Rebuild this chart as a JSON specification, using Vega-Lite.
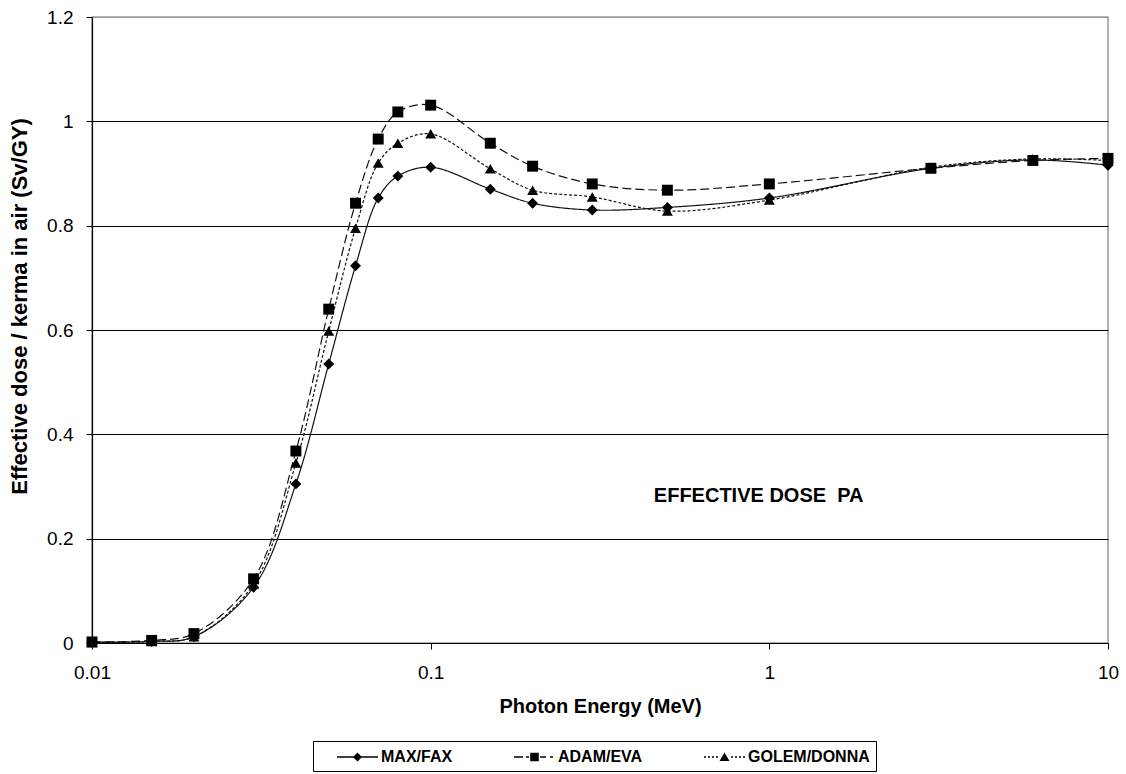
{
  "$schema": "https://vega.github.io/schema/vega-lite/v6.json",
  "autosize": "none",
  "width": 1016,
  "height": 626,
  "padding": {"left": 92, "top": 17, "right": 18, "bottom": 131},
  "background": "white",
  "config": {
    "font": "Liberation Sans",
    "view": {"stroke": "#999999", "strokeWidth": 1.5}
  },
  "data": {
    "values": [
      {"E": 0.01, "series": "MAX/FAX", "v": 0.002},
      {"E": 0.015, "series": "MAX/FAX", "v": 0.003},
      {"E": 0.02, "series": "MAX/FAX", "v": 0.012},
      {"E": 0.03, "series": "MAX/FAX", "v": 0.107},
      {"E": 0.04, "series": "MAX/FAX", "v": 0.305},
      {"E": 0.05, "series": "MAX/FAX", "v": 0.535},
      {"E": 0.06, "series": "MAX/FAX", "v": 0.723},
      {"E": 0.07, "series": "MAX/FAX", "v": 0.853},
      {"E": 0.08, "series": "MAX/FAX", "v": 0.895},
      {"E": 0.1, "series": "MAX/FAX", "v": 0.912},
      {"E": 0.15, "series": "MAX/FAX", "v": 0.870},
      {"E": 0.2, "series": "MAX/FAX", "v": 0.843},
      {"E": 0.3, "series": "MAX/FAX", "v": 0.830},
      {"E": 0.5, "series": "MAX/FAX", "v": 0.835},
      {"E": 1, "series": "MAX/FAX", "v": 0.853},
      {"E": 3, "series": "MAX/FAX", "v": 0.910},
      {"E": 6, "series": "MAX/FAX", "v": 0.926},
      {"E": 10, "series": "MAX/FAX", "v": 0.916},
      {"E": 0.01, "series": "ADAM/EVA", "v": 0.002},
      {"E": 0.015, "series": "ADAM/EVA", "v": 0.005},
      {"E": 0.02, "series": "ADAM/EVA", "v": 0.018},
      {"E": 0.03, "series": "ADAM/EVA", "v": 0.123},
      {"E": 0.04, "series": "ADAM/EVA", "v": 0.368},
      {"E": 0.05, "series": "ADAM/EVA", "v": 0.640},
      {"E": 0.06, "series": "ADAM/EVA", "v": 0.843},
      {"E": 0.07, "series": "ADAM/EVA", "v": 0.966},
      {"E": 0.08, "series": "ADAM/EVA", "v": 1.018},
      {"E": 0.1, "series": "ADAM/EVA", "v": 1.031},
      {"E": 0.15, "series": "ADAM/EVA", "v": 0.958},
      {"E": 0.2, "series": "ADAM/EVA", "v": 0.914},
      {"E": 0.3, "series": "ADAM/EVA", "v": 0.880},
      {"E": 0.5, "series": "ADAM/EVA", "v": 0.868},
      {"E": 1, "series": "ADAM/EVA", "v": 0.880},
      {"E": 3, "series": "ADAM/EVA", "v": 0.910},
      {"E": 6, "series": "ADAM/EVA", "v": 0.925},
      {"E": 10, "series": "ADAM/EVA", "v": 0.929},
      {"E": 0.01, "series": "GOLEM/DONNA", "v": 0.001},
      {"E": 0.015, "series": "GOLEM/DONNA", "v": 0.003},
      {"E": 0.02, "series": "GOLEM/DONNA", "v": 0.012},
      {"E": 0.03, "series": "GOLEM/DONNA", "v": 0.113},
      {"E": 0.04, "series": "GOLEM/DONNA", "v": 0.345},
      {"E": 0.05, "series": "GOLEM/DONNA", "v": 0.598},
      {"E": 0.06, "series": "GOLEM/DONNA", "v": 0.795},
      {"E": 0.07, "series": "GOLEM/DONNA", "v": 0.920},
      {"E": 0.08, "series": "GOLEM/DONNA", "v": 0.958},
      {"E": 0.1, "series": "GOLEM/DONNA", "v": 0.976},
      {"E": 0.15, "series": "GOLEM/DONNA", "v": 0.909},
      {"E": 0.2, "series": "GOLEM/DONNA", "v": 0.868},
      {"E": 0.3, "series": "GOLEM/DONNA", "v": 0.855},
      {"E": 0.5, "series": "GOLEM/DONNA", "v": 0.828},
      {"E": 1, "series": "GOLEM/DONNA", "v": 0.849},
      {"E": 3, "series": "GOLEM/DONNA", "v": 0.912},
      {"E": 6, "series": "GOLEM/DONNA", "v": 0.928},
      {"E": 10, "series": "GOLEM/DONNA", "v": 0.925}
    ]
  },
  "encoding": {
    "x": {
      "field": "E",
      "type": "quantitative",
      "scale": {"type": "log", "domain": [0.01, 10], "nice": false},
      "axis": {
        "title": "Photon Energy (MeV)",
        "values": [0.01, 0.1, 1, 10],
        "labelExpr": "datum.value",
        "grid": false,
        "domainColor": "black",
        "domainWidth": 1.2,
        "tickColor": "black",
        "tickSize": 6,
        "labelPadding": 14,
        "labelFontSize": 19,
        "labelColor": "black",
        "labelFlush": false,
        "titleFontSize": 20,
        "titleFontWeight": "bold",
        "titleColor": "black",
        "titlePadding": 14
      }
    },
    "y": {
      "field": "v",
      "type": "quantitative",
      "scale": {"domain": [0, 1.2], "nice": false},
      "axis": {
        "title": "Effective dose / kerma in air (Sv/GY)",
        "values": [0, 0.2, 0.4, 0.6, 0.8, 1, 1.2],
        "format": ".1~f",
        "grid": true,
        "gridColor": {"condition": {"test": "datum.value >= 1.19", "value": "#999999"}, "value": "black"},
        "gridWidth": 1.2,
        "gridOpacity": 1,
        "domainColor": "black",
        "domainWidth": 1.2,
        "tickColor": "black",
        "tickSize": 6,
        "labelPadding": 13,
        "labelFontSize": 19,
        "labelColor": "black",
        "labelFlush": false,
        "titleFontSize": 22,
        "titleFontWeight": "bold",
        "titleColor": "black",
        "titlePadding": 15,
        "titleY": 289
      }
    }
  },
  "layer": [
    {
      "mark": {"type": "line", "interpolate": "catmull-rom", "color": "#111111", "strokeWidth": 1.2},
      "encoding": {
        "strokeDash": {
          "field": "series",
          "type": "nominal",
          "scale": {"domain": ["MAX/FAX", "ADAM/EVA", "GOLEM/DONNA"], "range": [[1, 0], [9, 4], [3, 2]]},
          "legend": null
        }
      }
    },
    {
      "mark": {"type": "point", "filled": true, "color": "black", "opacity": 1, "size": 120},
      "encoding": {
        "shape": {
          "field": "series",
          "type": "nominal",
          "scale": {"domain": ["MAX/FAX", "ADAM/EVA", "GOLEM/DONNA"], "range": ["diamond", "square", "triangle-up"]},
          "legend": null
        }
      }
    },
    {
      "mark": {"type": "point", "filled": true, "color": "black", "opacity": 0},
      "encoding": {
        "shape": {
          "field": "series",
          "type": "nominal",
          "scale": {
            "domain": ["MAX/FAX", "ADAM/EVA", "GOLEM/DONNA"],
            "range": [
              "M0.8,-0.065L4.9,-0.065L4.9,0.065L0.8,0.065ZM2.85,-0.45L3.3,0L2.85,0.45L2.4,0Z",
              "M0.8,-0.065L1.7,-0.065L1.7,0.065L0.8,0.065ZM2.0,-0.065L2.3,-0.065L2.3,0.065L2.0,0.065ZM2.42,-0.43L3.28,-0.43L3.28,0.43L2.42,0.43ZM3.4,-0.065L4.0,-0.065L4.0,0.065L3.4,0.065ZM4.4,-0.065L4.7,-0.065L4.7,0.065L4.4,0.065Z",
              "M0.8,-0.065L1.0,-0.065L1.0,0.065L0.8,0.065ZM1.2,-0.065L1.4,-0.065L1.4,0.065L1.2,0.065ZM1.6,-0.065L1.8,-0.065L1.8,0.065L1.6,0.065ZM2.0,-0.065L2.2,-0.065L2.2,0.065L2.0,0.065ZM2.85,-0.45L3.35,0.4L2.35,0.4ZM3.5,-0.065L3.7,-0.065L3.7,0.065L3.5,0.065ZM3.9,-0.065L4.1,-0.065L4.1,0.065L3.9,0.065ZM4.3,-0.065L4.5,-0.065L4.5,0.065L4.3,0.065ZM4.7,-0.065L4.9,-0.065L4.9,0.065L4.7,0.065Z"
            ]
          },
          "legend": {
            "title": null,
            "orient": "none",
            "legendX": 221,
            "legendY": 724,
            "direction": "horizontal",
            "columns": 3,
            "symbolSize": 400,
            "symbolOpacity": 1,
            "symbolFillColor": "black",
            "symbolStrokeColor": "black",
            "symbolStrokeWidth": 0,
            "labelFont": "Liberation Sans",
            "labelFontWeight": "bold",
            "labelFontSize": 16,
            "labelColor": "black",
            "labelOffset": 42,
            "columnPadding": 43,
            "padding": 6,
            "strokeColor": "black",
            "fillColor": "white",
            "encode": {
              "symbols": {
                "update": {
                  "size": {"value": 400},
                  "opacity": {"value": 1},
                  "fill": {"value": "black"},
                  "fillOpacity": {"value": 1}
                }
              }
            }
          }
        }
      }
    },
    {
      "data": {"values": [{"E": 0.93, "v": 0.282, "label": "EFFECTIVE DOSE\u00a0\u00a0PA"}]},
      "mark": {"type": "text", "fontSize": 20, "fontWeight": "bold", "color": "black", "align": "center", "baseline": "middle"},
      "encoding": {
        "text": {"field": "label"}
      }
    }
  ],
  "resolve": {"scale": {"shape": "independent"}}
}
